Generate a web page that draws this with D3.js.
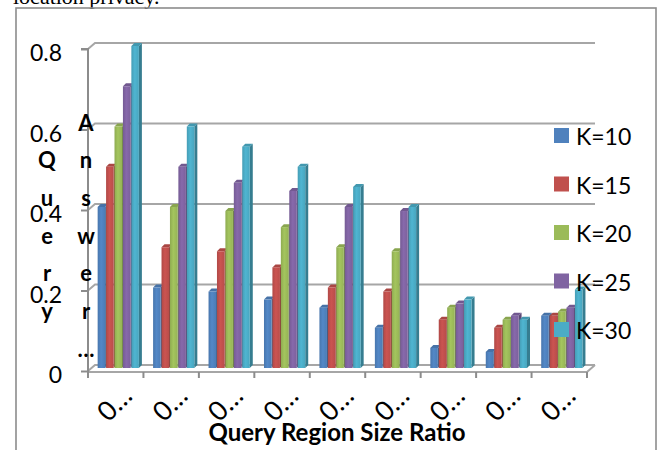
<!DOCTYPE html>
<html>
<head>
<meta charset="utf-8">
<script src="https://cdn.jsdelivr.net/npm/d3@7"></script>
<style>
  body { margin: 0; background: #fff; }
  svg { display: block; }
</style>
</head>
<body>
<div id="chart"></div>
<script>
const categories = ['c1', 'c2', 'c3', 'c4', 'c5', 'c6', 'c7', 'c8', 'c9'];
const categoryLabels = ['0…', '0…', '0…', '0…', '0…', '0…', '0…', '0…', '0…'];
const seriesNames = ['K=10', 'K=15', 'K=20', 'K=25', 'K=30'];
const k10 = [0.40, 0.20, 0.19, 0.17, 0.15, 0.10, 0.05, 0.04, 0.13];
const k15 = [0.50, 0.30, 0.29, 0.25, 0.20, 0.19, 0.12, 0.10, 0.13];
const k20 = [0.60, 0.40, 0.39, 0.35, 0.30, 0.29, 0.15, 0.12, 0.14];
const k25 = [0.70, 0.50, 0.46, 0.44, 0.40, 0.39, 0.16, 0.13, 0.15];
const k30 = [0.80, 0.60, 0.55, 0.50, 0.45, 0.40, 0.17, 0.12, 0.195];
const yTicks = [0, 0.2, 0.4, 0.6, 0.8];

const seriesValues = [k10, k15, k20, k25, k30];
const colors = ['#4F81BD', '#C0504D', '#9BBB59', '#8064A2', '#4BACC6'];

const width = 659;
const height = 450;
const dx = 7, dy = -6;          // depth of the 3D box
const bx = 3, by = -3;          // depth of each bar

const svg = d3.select('#chart')
  .append('svg')
  .attr('width', width)
  .attr('height', height);

// gradients for bar fronts
const defs = svg.append('defs');
colors.forEach((c, i) => {
  const g = defs.append('linearGradient').attr('id', 'grad' + i)
    .attr('x1', '0%').attr('x2', '100%').attr('y1', '0%').attr('y2', '0%');
  g.append('stop').attr('offset', '0%').attr('stop-color', d3.color(c).darker(0.25));
  g.append('stop').attr('offset', '45%').attr('stop-color', d3.color(c).brighter(0.15));
  g.append('stop').attr('offset', '100%').attr('stop-color', d3.color(c).darker(0.1));
});

// caption text cut off above the chart frame
svg.append('text')
  .attr('x', 13).attr('y', 4)
  .style('font-family', '"Liberation Serif", "Times New Roman", serif')
  .style('font-size', '22px')
  .text('location privacy.');

// chart frame
svg.append('rect')
  .attr('x', 16).attr('y', 8)
  .attr('width', 640).attr('height', 470)
  .attr('fill', 'none')
  .attr('stroke', '#8c8c8c')
  .attr('stroke-width', 1.6);

const left = 88, right = 587;

const xScale = d3.scaleBand()
  .domain(categories)
  .range([left, right])
  .paddingInner(0.24)
  .paddingOuter(0.12);

const xStep = (right - left) / categories.length;

const xInner = d3.scaleBand()
  .domain(seriesNames)
  .range([0, xScale.bandwidth()]);

const yFront = d3.scaleLinear().domain([0, 0.8]).range([371, 49]);
const yBar = (v) => yFront(v) + by;

// gridlines: side wall + back wall
const grid = svg.append('g').attr('class', 'gridlines');
yTicks.forEach((t) => {
  const yf = yFront(t);
  grid.append('path')
    .attr('d', `M${left},${yf}L${left + dx},${yf + dy}L${right + dx + 1},${yf + dy}`)
    .attr('fill', 'none')
    .attr('stroke', '#a6a6a6')
    .attr('stroke-width', 2);
});

// floor front edge
svg.append('path')
  .attr('d', `M${left},${yFront(0) + 1}L${right},${yFront(0) + 1}L${right + dx + 1},${yFront(0) + dy}`)
  .attr('fill', 'none')
  .attr('stroke', '#a6a6a6')
  .attr('stroke-width', 2);

// bars
const bars = svg.append('g').attr('class', 'bars');
categories.forEach((cat, ci) => {
  seriesNames.forEach((s, si) => {
    const v = seriesValues[si][ci];
    const w = xInner.bandwidth() - 0.9;
    const x = xScale(cat) + xInner(s) + 3;
    const y0 = yBar(0);
    const y1 = yBar(v);
    const c = d3.color(colors[si]);
    const g = bars.append('g');
    // side face
    g.append('path')
      .attr('d', `M${x + w},${y1}L${x + w + bx},${y1 + by}L${x + w + bx},${y0 + by}L${x + w},${y0}Z`)
      .attr('fill', c.darker(0.9));
    // top face
    g.append('path')
      .attr('d', `M${x},${y1}L${x + bx},${y1 + by}L${x + w + bx},${y1 + by}L${x + w},${y1}Z`)
      .attr('fill', c.darker(0.35));
    // front face
    g.append('rect')
      .attr('x', x).attr('y', y1)
      .attr('width', w).attr('height', y0 - y1)
      .attr('fill', `url(#grad${si})`);
  });
});

// y axis
const yAxis = d3.axisLeft(yFront)
  .tickValues(yTicks)
  .tickSize(7)
  .tickPadding(19)
  .tickFormat((d) => d === 0 ? '0' : d3.format('.1f')(d));

const yAxisG = svg.append('g')
  .attr('transform', `translate(${left}, 0)`)
  .call(yAxis);
yAxisG.select('.domain').attr('stroke', '#8c8c8c').attr('stroke-width', 2)
  .attr('d', `M-7,${yFront(0.8)}H0V${yFront(0) + 1}`);
yAxisG.selectAll('.tick line').attr('stroke', '#8c8c8c').attr('stroke-width', 2);
yAxisG.selectAll('.tick text')
  .attr('dy', '0.5em')
  .style('font-family', 'Lato, "Open Sans", sans-serif')
  .style('font-size', '23px')
  .attr('fill', '#000');

// x axis ticks at category boundaries
const xTicks = svg.append('g');
d3.range(categories.length + 1).forEach((i) => {
  const x = left + i * xStep;
  xTicks.append('line')
    .attr('x1', x).attr('x2', x)
    .attr('y1', yFront(0) + 1).attr('y2', yFront(0) + 7)
    .attr('stroke', '#8c8c8c')
    .attr('stroke-width', 2);
});

// x tick labels rotated
svg.append('g')
  .selectAll('text')
  .data(categories)
  .join('text')
  .attr('transform', (d) => `translate(${xScale(d) + xScale.bandwidth() / 2 - 2}, 403) rotate(-45)`)
  .attr('text-anchor', 'middle')
  .attr('dominant-baseline', 'central')
  .style('font-family', 'Lato, "Open Sans", sans-serif')
  .style('font-size', '27px')
  .text((d, i) => categoryLabels[i]);

// x axis title
svg.append('text')
  .attr('x', 337).attr('y', 441)
  .attr('text-anchor', 'middle')
  .style('font-family', 'Lato, "Open Sans", sans-serif')
  .style('font-weight', 'bold')
  .style('font-size', '24px')
  .text('Query Region Size Ratio');

// y axis title, wrapped one letter per line in two columns
const titleCols = [
  { x: 47, start: 1, letters: ['Q', 'u', 'e', 'r', 'y'] },
  { x: 86, start: 0, letters: ['A', 'n', 's', 'w', 'e', 'r', '…'] },
];
const yTitle = svg.append('g')
  .style('font-family', 'Lato, "Open Sans", sans-serif')
  .style('font-weight', 'bold')
  .style('font-size', '22px');
titleCols.forEach((col) => {
  col.letters.forEach((l, i) => {
    yTitle.append('text')
      .attr('x', col.x)
      .attr('y', 122 + (col.start + i) * 37.7)
      .attr('text-anchor', 'middle')
      .attr('dominant-baseline', 'central')
      .text(l);
  });
});

// legend
const legend = svg.append('g').attr('transform', 'translate(554, 128)');
seriesNames.forEach((s, i) => {
  const row = legend.append('g').attr('transform', `translate(0, ${i * 48.5})`);
  row.append('rect')
    .attr('width', 15).attr('height', 15)
    .attr('fill', colors[i]);
  row.append('text')
    .attr('x', 22).attr('y', 8)
    .attr('dominant-baseline', 'central')
    .style('font-family', 'Lato, "Open Sans", sans-serif')
    .style('font-size', '23px')
    .text(s);
});
</script>
</body>
</html>
